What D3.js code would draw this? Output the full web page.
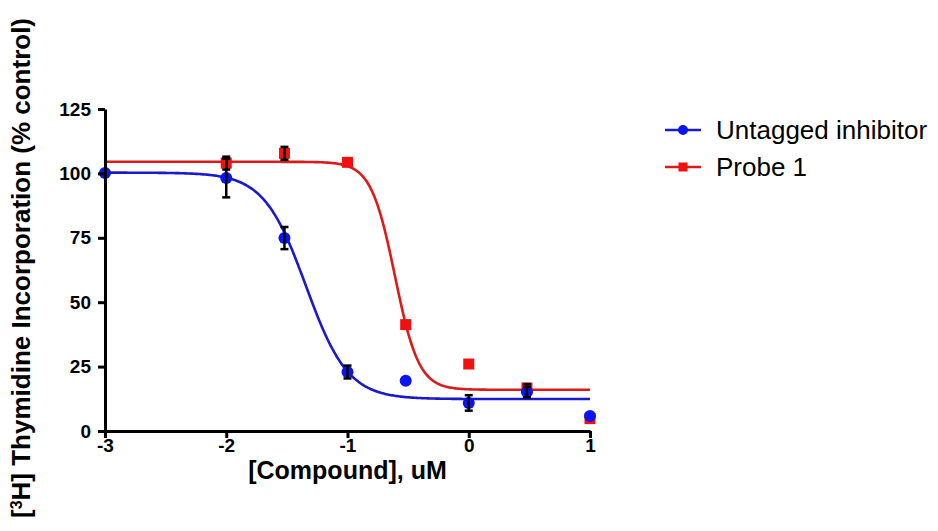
<!DOCTYPE html>
<html>
<head>
<meta charset="utf-8">
<script src="https://cdn.jsdelivr.net/npm/d3@7"></script>
<style>
    body { margin: 0; background: #fff; }
    svg { display: block; font-family: "Liberation Sans", Arial, sans-serif; }
    .axis path, .axis line { stroke: #000; stroke-width: 3; }
    .axis text { font-size: 19px; font-weight: bold; fill: #000; }
    .title { font-size: 25px; font-weight: bold; }
    .legend text { font-size: 26px; }
</style>
</head>
<body>
<svg id="chart" width="938" height="531"></svg>
<script>
// log10 of concentration (uM)
const logConc = [-3, -2, -1.52, -1, -0.52, 0, 0.48, 1];

const untagged = [100.2, 98.2, 74.9, 22.9, 19.5, 10.9, 15.1, 5.8];
const untaggedErr = [0, 7.5, 4.3, 2.5, 0, 3, 2, 0];

const probe = [null, 104, 107.8, 104.3, 41.3, 26.0, 16.7, 4.8];
const probeErr = [0, 2.5, 2.5, 0, 0, 0, 1.5, 0];

// fitted curves: [top, bottom, logIC50, hill]
const untaggedFit = [100.3, 12.4, -1.343, 2.5];
const probeFit = [104.5, 16.0, -0.609, 4.4];

const xTicks = [-3, -2, -1, 0, 1];
const yTicks = [0, 25, 50, 75, 100, 125];

const BLUE_LINE = "#1a1acc", BLUE = "#0a14f0";
const RED_LINE = "#dd1a1a", RED = "#f01010";

const svg = d3.select("#chart");
const x = d3.scaleLinear().domain([-3, 1]).range([105, 590]);
const y = d3.scaleLinear().domain([0, 125]).range([431, 109]);

function fitValue(p, lx) {
    return p[1] + (p[0] - p[1]) / (1 + Math.pow(10, (lx - p[2]) * p[3]));
}

function drawCurve(params, color) {
    let xs = d3.range(0, 401).map(i => -3 + i * 0.01);
    let line = d3.line().x(d => x(d)).y(d => y(fitValue(params, d)));
    svg.append("path").datum(xs).attr("d", line)
        .attr("fill", "none").attr("stroke", color).attr("stroke-width", 2.6);
}

function drawErrorBars(values, errs) {
    let g = svg.append("g").attr("stroke", "#000").attr("stroke-width", 2.5);
    logConc.forEach((lx, i) => {
        if (values[i] == null || !errs[i]) return;
        let cx = x(lx), y1 = y(values[i] + errs[i]), y2 = y(values[i] - errs[i]);
        g.append("line").attr("x1", cx).attr("x2", cx).attr("y1", y1).attr("y2", y2);
        g.append("line").attr("x1", cx - 4).attr("x2", cx + 4).attr("y1", y1).attr("y2", y1);
        g.append("line").attr("x1", cx - 4).attr("x2", cx + 4).attr("y1", y2).attr("y2", y2);
    });
}

function drawCircles(values, color) {
    svg.append("g").selectAll("circle")
        .data(logConc.map((lx, i) => [lx, values[i]]).filter(d => d[1] != null))
        .join("circle").attr("cx", d => x(d[0])).attr("cy", d => y(d[1]))
        .attr("r", 6).attr("fill", color);
}

function drawSquares(values, color) {
    svg.append("g").selectAll("rect")
        .data(logConc.map((lx, i) => [lx, values[i]]).filter(d => d[1] != null))
        .join("rect").attr("x", d => x(d[0]) - 5.5).attr("y", d => y(d[1]) - 5.5)
        .attr("width", 11).attr("height", 11).attr("fill", color);
}

// curves
drawCurve(probeFit, RED_LINE);
drawCurve(untaggedFit, BLUE_LINE);

// points
drawSquares(probe, RED);
drawErrorBars(probe, probeErr);
drawCircles(untagged, BLUE);
drawErrorBars(untagged, untaggedErr);

// axes
svg.append("g").attr("class", "axis").attr("transform", `translate(0,${y(0)})`)
    .call(d3.axisBottom(x).tickValues(xTicks).tickFormat(d => String(d))
        .tickSize(7).tickSizeOuter(0).tickPadding(1));
svg.append("g").attr("class", "axis").attr("transform", `translate(${x(-3)},0)`)
    .call(d3.axisLeft(y).tickValues(yTicks).tickSize(7).tickSizeOuter(0).tickPadding(7));

// axis titles
svg.append("text").attr("class", "title").attr("x", x(-1)).attr("y", 479)
    .attr("text-anchor", "middle").text("[Compound], uM");

let yTitle = svg.append("text").attr("class", "title").attr("text-anchor", "middle")
    .style("font-size", "26px")
    .attr("transform", "translate(30,268) rotate(-90)");
yTitle.append("tspan").text("[");
yTitle.append("tspan").attr("baseline-shift", "super").attr("font-size", "16px").text("3");
yTitle.append("tspan").text("H] Thymidine Incorporation (% control)");

// legend
const legendItems = [
    {name: "Untagged inhibitor", line: BLUE_LINE, color: BLUE, shape: "circle"},
    {name: "Probe 1", line: RED_LINE, color: RED, shape: "square"}
];
let legend = svg.append("g").attr("class", "legend");
legendItems.forEach((d, i) => {
    let ly = 130 + i * 37;
    legend.append("line").attr("x1", 665).attr("x2", 701).attr("y1", ly).attr("y2", ly)
        .attr("stroke", d.line).attr("stroke-width", 2.6);
    if (d.shape === "circle") {
        legend.append("circle").attr("cx", 683).attr("cy", ly).attr("r", 5).attr("fill", d.color);
    } else {
        legend.append("rect").attr("x", 678.5).attr("y", ly - 4.5).attr("width", 9).attr("height", 9).attr("fill", d.color);
    }
    legend.append("text").attr("x", 716).attr("y", ly + 9).text(d.name);
});
</script>
</body>
</html>
